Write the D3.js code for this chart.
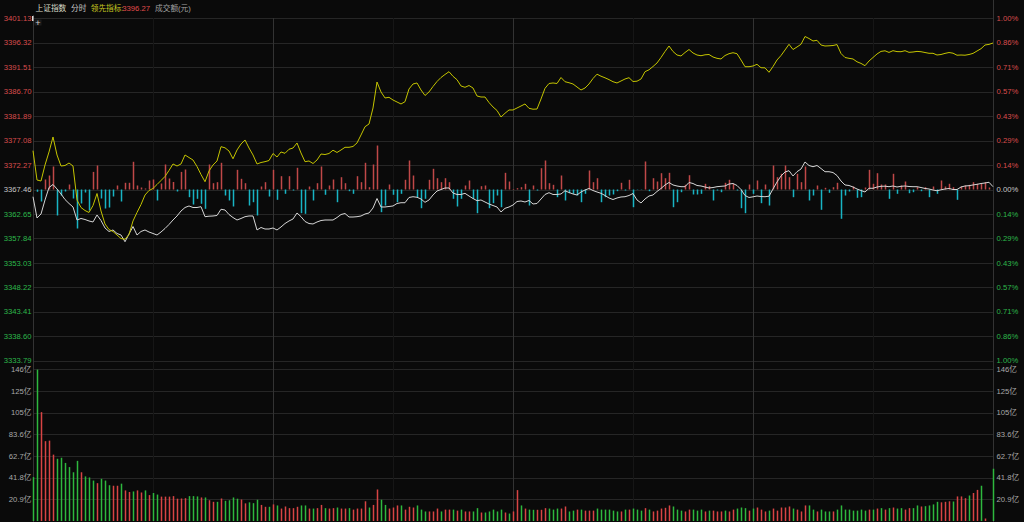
<!DOCTYPE html>
<html><head><meta charset="utf-8">
<script src="https://cdn.jsdelivr.net/npm/d3@7/dist/d3.min.js"></script>
<style>html,body{margin:0;padding:0;background:#0a0a0a;overflow:hidden}svg{display:block}</style>
</head><body><svg id="c" width="1024" height="522"></svg>
<script>
const preClose = 3367.46;
const priceTicks = [3333.79,3338.60,3343.41,3348.22,3353.03,3357.84,3362.65,3367.46,3372.27,3377.08,3381.89,3386.70,3391.51,3396.32,3401.13];
const volTicks = [20.9,41.8,62.7,83.6,104.5,125.4,146.3];
const volTickLabels = ["20.9亿","41.8亿","62.7亿","83.6亿","105亿","125亿","146亿"];
const gridMinutes = [30,60,90,120,150,180,210];
const majorMinutes = [60,120,180];
const header = [
  {t:"上证指数", c:"#dcdcc8"},
  {t:"分时", c:"#c8c8c8"},
  {t:"领先指标:", c:"#c8c820"},
  {t:"3396.27", c:"#e04a4a"},
  {t:"成交额(元)", c:"#a0a0a0"}
];
const price = [3366.04,3361.86,3362.64,3365.40,3367.85,3368.44,3367.56,3366.58,3365.49,3364.71,
3364.02,3361.46,3361.76,3361.56,3361.27,3361.07,3362.45,3361.36,3359.89,3359.20,
3359.50,3358.81,3358.51,3357.19,3358.71,3360.18,3358.51,3359.20,3359.50,3359.10,
3358.81,3358.51,3359.10,3359.79,3360.58,3361.46,3362.25,3363.23,3363.92,3364.22,
3363.92,3363.92,3364.08,3362.11,3362.21,3362.25,3362.35,3363.57,3363.43,3362.54,
3361.95,3361.46,3361.76,3362.11,3362.25,3362.25,3359.50,3359.99,3359.69,3359.69,
3359.89,3359.50,3360.09,3360.77,3361.27,3361.66,3362.84,3362.11,3361.17,3360.77,
3360.68,3361.07,3361.36,3361.46,3361.46,3361.46,3361.95,3362.54,3362.74,3362.05,
3362.05,3362.11,3362.25,3362.64,3362.84,3363.82,3365.69,3364.02,3364.02,3364.12,
3364.22,3364.71,3364.86,3364.86,3365.89,3366.04,3365.93,3365.59,3364.94,3365.40,
3366.38,3367.17,3367.46,3367.76,3367.76,3366.77,3366.48,3366.48,3366.71,3366.18,
3365.69,3365.26,3365.40,3365.00,3364.61,3364.31,3364.02,3363.04,3363.76,3364.02,
3364.41,3365.10,3365.20,3365.00,3365.30,3364.61,3364.71,3365.59,3366.48,3366.83,
3366.48,3366.48,3366.58,3367.22,3366.87,3366.58,3366.38,3366.97,3367.36,3367.66,
3367.26,3366.97,3366.71,3366.28,3365.79,3365.49,3365.79,3365.99,3366.04,3366.28,
3366.67,3365.40,3364.81,3365.59,3366.18,3366.38,3367.07,3367.66,3368.35,3368.84,
3368.35,3368.15,3368.01,3368.01,3368.84,3368.64,3368.25,3368.15,3367.95,3367.76,
3367.85,3368.01,3368.09,3368.15,3368.54,3368.64,3368.25,3367.46,3366.28,3365.89,
3366.02,3366.18,3366.08,3366.04,3366.14,3367.56,3368.94,3370.12,3370.90,3371.16,
3370.12,3370.96,3371.49,3372.87,3372.18,3371.94,3372.18,3371.59,3370.96,3370.96,
3370.80,3370.21,3369.13,3368.35,3368.25,3367.95,3367.56,3367.26,3366.97,3367.70,
3367.70,3367.95,3368.09,3368.11,3368.01,3368.15,3367.95,3368.09,3368.15,3368.05,
3368.01,3368.01,3367.85,3367.66,3367.56,3367.36,3367.22,3367.40,3367.56,3367.66,
3367.46,3367.46,3367.95,3368.15,3368.21,3368.35,3368.48,3368.64,3368.74,3368.88,
3368.01];
const lead = [3375.09,3369.33,3369.13,3372.28,3374.84,3377.79,3374.25,3372.08,3372.18,3372.67,
3372.08,3365.40,3363.92,3363.33,3362.94,3364.31,3366.67,3363.23,3360.68,3359.59,
3359.20,3358.51,3357.82,3357.67,3358.61,3361.27,3362.94,3364.51,3366.38,3367.26,
3367.66,3368.44,3369.23,3370.02,3371.20,3372.48,3372.08,3372.48,3374.25,3373.75,
3373.26,3371.98,3370.41,3368.99,3371.10,3372.28,3373.07,3375.88,3375.66,3375.03,
3373.50,3375.23,3376.41,3377.20,3375.62,3374.25,3372.48,3372.77,3372.93,3373.16,
3374.54,3373.85,3374.84,3374.58,3375.37,3375.62,3376.61,3374.64,3372.93,3373.07,
3372.57,3373.26,3374.44,3374.34,3374.54,3375.19,3374.74,3375.23,3375.76,3375.76,
3375.92,3376.61,3378.18,3379.81,3380.34,3383.49,3388.60,3386.64,3385.46,3385.59,
3385.06,3384.67,3384.28,3384.73,3387.23,3388.21,3388.41,3387.03,3385.95,3386.64,
3387.72,3388.70,3389.49,3390.08,3390.63,3389.72,3389.05,3387.82,3387.56,3387.91,
3387.42,3385.85,3385.65,3385.65,3384.57,3383.69,3383.00,3381.72,3382.45,3383.10,
3383.10,3383.49,3383.88,3384.28,3383.43,3383.25,3383.29,3385.26,3387.36,3388.31,
3388.41,3388.31,3389.49,3388.66,3388.46,3388.21,3387.62,3387.03,3387.42,3388.21,
3389.29,3390.14,3389.74,3389.43,3389.07,3388.66,3388.41,3388.80,3389.19,3389.45,
3388.70,3388.76,3389.19,3390.63,3391.00,3391.65,3392.34,3393.42,3394.60,3395.68,
3394.60,3393.91,3393.72,3394.40,3394.99,3394.31,3393.91,3393.77,3393.95,3394.01,
3393.52,3393.26,3393.13,3393.81,3394.17,3394.36,3394.17,3392.93,3391.61,3391.61,
3391.75,3392.08,3391.41,3391.39,3390.51,3391.65,3392.93,3393.81,3394.90,3396.02,
3394.99,3395.49,3396.02,3397.55,3397.16,3396.67,3396.80,3395.88,3395.68,3395.72,
3395.78,3395.96,3394.21,3393.42,3393.26,3393.13,3392.58,3392.26,3391.81,3392.73,
3393.42,3394.11,3394.62,3394.74,3394.42,3394.76,3394.58,3394.56,3394.76,3394.44,
3394.50,3394.62,3394.56,3394.40,3394.25,3394.25,3393.91,3394.01,3394.23,3394.40,
3394.27,3393.87,3393.91,3393.87,3394.01,3394.23,3394.70,3395.15,3395.88,3396.00,
3396.27];
const force = [0,-0.45,-2.36,1.97,2.75,4.52,-5.11,-1.18,-0.39,0.98,
-1.77,-7.67,-2.75,-0.59,-4.13,3.46,4.72,-1.77,-3.74,-3.54,
-1.38,0.79,-2.36,1.32,1.32,5.45,0.79,0.39,0.20,1.77,
1.97,-2.16,1.18,4.92,2.16,1.48,-0.39,3.46,3.93,-1.51,
-2.95,-1.83,-2.81,-3.80,4.92,1.24,1.44,5.25,-1.18,-2.16,
-3.34,3.87,2.10,1.24,-3.15,-2.50,-5.11,0.59,1.44,-1.38,
3.87,-2.03,2.62,-0.85,2.62,-0.20,4.27,-4.66,-4.78,0.59,
-2.16,1.24,4.52,-1.04,0.79,1.97,-2.50,2.42,1.24,-0.33,
-0.85,2.62,1.44,5.25,0.45,4.92,8.65,-4.46,-3.15,0.98,
-1.04,-2.50,-0.85,1.91,5.70,2.75,-1.51,-3.68,-1.83,1.91,
4.07,2.22,1.44,2.22,1.44,-1.83,-3.34,-1.83,0.79,1.77,
-1.83,-4.66,0.65,0.79,-3.68,-2.69,-1.18,-3.48,3.28,1.57,
0.10,0.26,0.45,1.12,-3.15,0.79,-0.20,4.19,5.70,1.24,
0.92,-1.51,2.75,-2.16,-0.73,-0.85,-1.18,-2.50,-0.85,3.74,
1.44,2.22,-2.50,-1.51,-1.18,-0.98,-0.33,1.32,-0.20,1.91,
-3.48,-0.06,-0.06,5.51,-0.33,2.22,1.57,3.21,2.22,3.28,
-3.48,-2.50,-0.53,0.92,2.81,-0.98,-0.98,-0.85,1.12,0.65,
-2.16,-0.20,-0.53,1.32,1.91,1.12,-0.20,-3.68,-4.66,0.98,
-0.85,1.77,-2.69,0.98,-3.15,4.72,2.42,3.09,4.72,2.42,
-1.51,3.09,1.44,4.52,-2.16,-1.18,0.79,-3.99,0.33,-0.65,
0.45,1.32,-5.76,-1.18,-0.39,0.59,-1.63,-1.51,0.39,3.87,
1.12,3.21,0.98,0.98,-1.83,3.09,-0.85,0.79,1.57,-0.73,
-0.53,0.45,-0.33,0.45,-1.51,0.59,-0.85,1.77,0.59,1.12,
0.45,-2.03,0.59,0.79,0.92,1.44,1.12,1.12,1.44,0.39,
0];
const volume = [42.3,146,105,77,77.5,64,60,61,56,52,
47,58,47,43,42,39,36.5,40.7,39,34.5,
34,34,36,29.5,28,28.5,29.5,27.5,29.5,25,
27,25.5,23.5,23.5,23.5,24,21.5,21.7,22,24,
24,23.7,22.7,22.7,20,18.5,18.5,21.7,19.5,20,
22.7,21.5,20.7,17,18,17.2,20.5,15.5,13.7,13.7,
16,15,12,14,12.4,12.4,13.7,15,15,12,
12,12.4,15.5,12.4,12,12.4,13,12,12,12.4,
11,12,12,19,13,15.5,30.4,20.5,15.5,12,
13,15,15,11,13.7,13,15,11,9.2,9.2,
9.2,12,9.2,11,11,11,10,11,9.2,9.2,
9.2,12.4,8.2,8.2,9.2,11,9.2,11,8.2,7.2,
9.2,29.8,15,12,11,10.8,10.8,10.8,12.4,12,
11,12,12,14,9.2,10,11,11,10,10,
10,12,11,11,11,10,9.2,9.2,11,11,
12,11,10,12.4,11,9.2,10,12,12.7,15,
14,11,10,9.2,11,11,10,11,9.2,10,
10,9.2,9.2,10,9.2,11,12,13,12.4,10,
12,13,11,9.2,10,12,10,13,13,14,
12,11,9.2,15,15,11,9.2,11,9.2,9.2,
9.2,11,15,11,11,10,10,11,10,11,
11,12,12.4,11,12.4,13,12,12.4,11,12.4,
12.4,15,14,14.3,15,16,18.5,18,18.5,19,
18.8,23.7,23.7,22,24.6,27,30,34,2.4,0,
50.4];
const volDir = ("ggrrrrgggg"+"ggrgggrggg"+"rrgrrgrrgr"+"ggrrrrrrrg"+"ggrgrrgrgg"+
 "ggrrgggrrg"+"rgrrrrrggr"+"grrgrrgrrg"+"rrrrgrrggr"+"rrgrrrgggr"+
 "rrgrrgrgrr"+"ggrgggggrg"+"rrgrggrrrg"+"ggrrggrgrr"+"rggggggrgr"+
 "gggrgrrrrr"+"gggrrgggrg"+"rrrgrrgggr"+"grrrgrrrrr"+"grrrggrggg"+
 "rggggggggr"+"grgrgrggrr"+"ggrggggrrr"+"grrrgrrgrg"+"g").split("");

const svg = d3.select("#c");
const FONT = "'Liberation Sans','Noto Sans CJK SC',sans-serif";
const FS = 7.7;
svg.append("rect").attr("width",1024).attr("height",522).attr("fill","#0a0a0a");

const x = d3.scaleLinear().domain([0,240]).range([33,993]);
const y = d3.scaleLinear().domain([3333.79,3401.13]).range([360.7,18.3]);
const yv = d3.scaleLinear().domain([0,146.3]).range([521,369.3]);
const crisp = v => Math.round(v)+0.5;

// horizontal grid main
svg.append("g").selectAll("line").data(priceTicks).join("line")
  .attr("x1",33).attr("x2",993)
  .attr("y1",d=>crisp(y(d))).attr("y2",d=>crisp(y(d)))
  .attr("stroke","#262626").attr("stroke-width",1);
// horizontal grid volume
svg.append("g").selectAll("line").data(volTicks).join("line")
  .attr("x1",33).attr("x2",993)
  .attr("y1",d=>crisp(yv(d))).attr("y2",d=>crisp(yv(d)))
  .attr("stroke","#262626").attr("stroke-width",1);
// vertical grid
svg.append("g").selectAll("line").data(gridMinutes).join("line")
  .attr("x1",d=>crisp(x(d))).attr("x2",d=>crisp(x(d)))
  .attr("y1",18).attr("y2",522)
  .attr("stroke",d=>majorMinutes.includes(d)?"#333333":"#161616").attr("stroke-width",1);
// axis borders
svg.append("line").attr("x1",crisp(x(0))).attr("x2",crisp(x(0))).attr("y1",15).attr("y2",522).attr("stroke","#333");
svg.append("line").attr("x1",crisp(x(240))).attr("x2",crisp(x(240))).attr("y1",0).attr("y2",522).attr("stroke","#333");

// force bars
const y0 = y(preClose);
const BW = 1.5;
svg.append("g").selectAll("rect").data(force).join("rect")
  .attr("x",(d,i)=>x(i)-BW/2+0.5)
  .attr("width",BW)
  .attr("y",d=>Math.min(y(preClose+d),y0))
  .attr("height",d=>Math.abs(y(preClose+d)-y0))
  .style("fill",d=>d>=0?"#c04848":"#18b4c4");

// volume bars
svg.append("g").selectAll("rect").data(volume).join("rect")
  .attr("x",(d,i)=>x(i)-BW/2+0.5)
  .attr("width",BW)
  .attr("y",d=>yv(d))
  .attr("height",d=>yv(0)-yv(d))
  .style("fill",(d,i)=>volDir[i]==="r"?"#d84444":"#2eb83e");

// lines
const line = d3.line().x((d,i)=>x(i)).y(d=>y(d));
svg.append("path").datum(price).attr("d",line).attr("fill","none").attr("stroke","#d6d6d6").attr("stroke-width",1);
svg.append("path").datum(lead).attr("d",line).attr("fill","none").attr("stroke","#c4c400").attr("stroke-width",1);

// left price labels
const colorFor = d => Math.abs(d-preClose)<0.001 ? "#c8c8c8" : (d>preClose ? "#d84c4c" : "#2db84a");
svg.append("g").selectAll("text").data(priceTicks).join("text")
  .attr("x",31.5).attr("y",d=>y(d)).attr("dy","0.35em")
  .attr("text-anchor","end").attr("font-family",FONT).attr("font-size",FS)
  .attr("fill",colorFor).text(d=>d.toFixed(2));
// right pct labels
svg.append("g").selectAll("text").data(priceTicks).join("text")
  .attr("x",996.5).attr("y",d=>y(d)).attr("dy","0.35em")
  .attr("font-family",FONT).attr("font-size",FS)
  .attr("fill",colorFor).text(d=>(Math.abs(d-preClose)/preClose*100).toFixed(2)+"%");
// volume labels
svg.append("g").selectAll("text").data(volTicks).join("text")
  .attr("x",31.5).attr("y",d=>yv(d)).attr("dy","0.35em")
  .attr("text-anchor","end").attr("font-family",FONT).attr("font-size",FS)
  .attr("fill","#a8a8a8").text((d,i)=>volTickLabels[i]);
svg.append("g").selectAll("text").data(volTicks).join("text")
  .attr("x",996.5).attr("y",d=>yv(d)).attr("dy","0.35em")
  .attr("font-family",FONT).attr("font-size",FS)
  .attr("fill","#a8a8a8").text((d,i)=>volTickLabels[i]);

// header
const hx = [35.5, 71, 90.7, 122.3, 155];
svg.append("g").selectAll("text").data(header).join("text")
  .attr("x",(d,i)=>hx[i]).attr("y",11)
  .attr("font-family",FONT).attr("font-size",FS)
  .attr("fill",d=>d.c).text(d=>d.t);

// crosshair icon
svg.append("rect").attr("x",34.5).attr("y",19.5).attr("width",7).attr("height",6).attr("fill","#1c1c1c");
svg.append("text").attr("x",38).attr("y",25.5).attr("text-anchor","middle").attr("font-family",FONT).attr("font-size",9).attr("fill","#cfcfcf").text("+");
svg.append("rect").attr("x",32).attr("y",16).attr("width",1.5).attr("height",5).attr("fill","#dddddd");
</script></body></html>
